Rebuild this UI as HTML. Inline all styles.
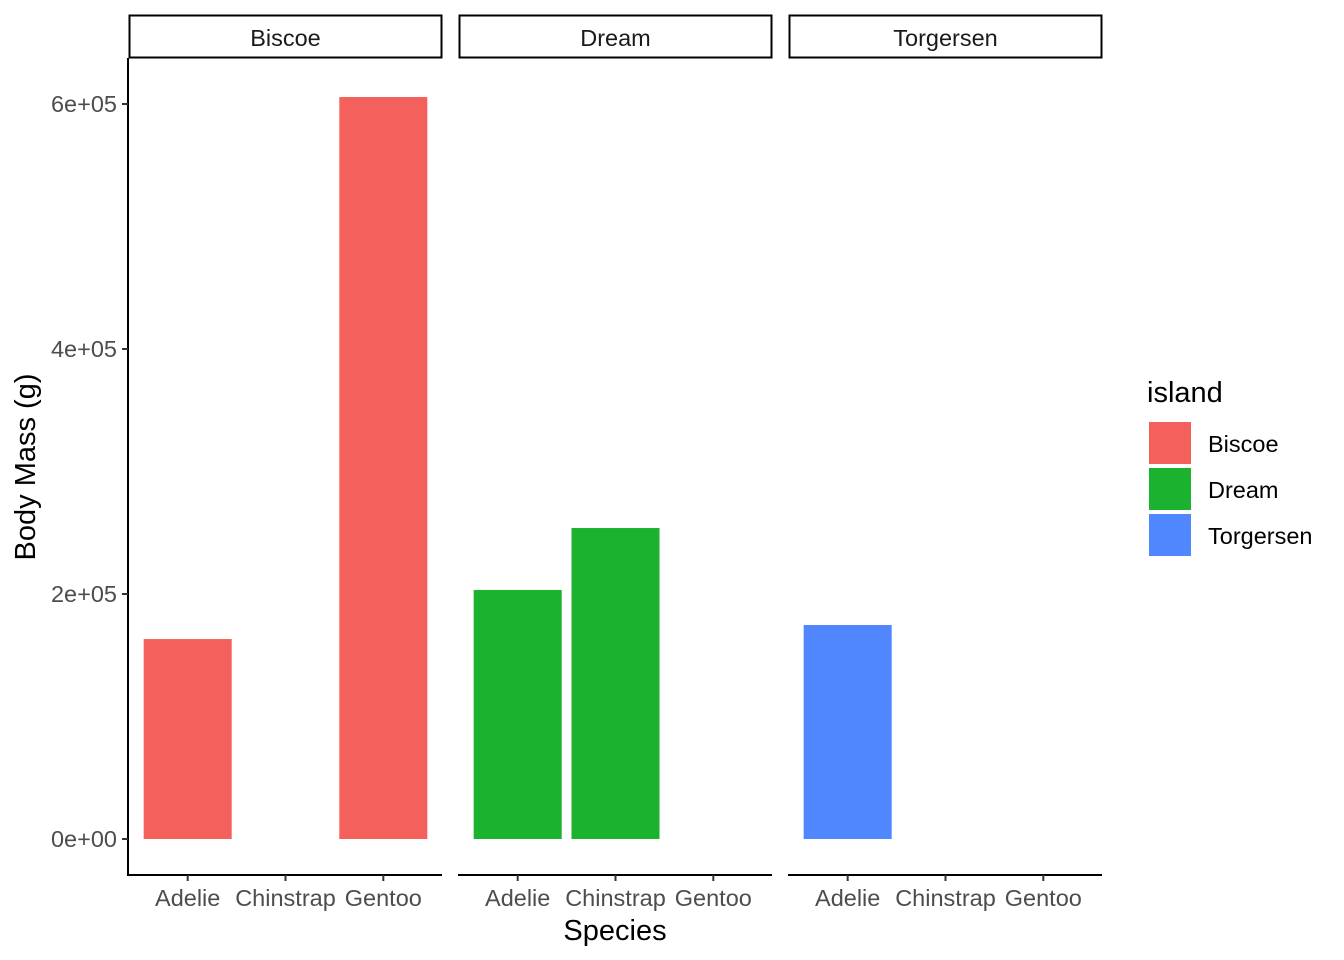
<!DOCTYPE html>
<html><head><meta charset="utf-8"><style>
body{margin:0;background:#fff;}
svg{display:block;font-family:"Liberation Sans",Arial,sans-serif;}
</style></head><body>
<svg id="chart" width="1344" height="960" xmlns="http://www.w3.org/2000/svg">
<g id="panels"></g>
<text x="615" y="940" font-size="29" text-anchor="middle" fill="#000">Species</text>
<text transform="translate(35,467) rotate(-90)" font-size="29" text-anchor="middle" fill="#000">Body Mass (g)</text>
<g>
<text x="1147" y="402" font-size="29" fill="#000">island</text>
</g>
<g id="legend-keys"></g>
</svg>
<script>
const facets = ["Biscoe","Dream","Torgersen"];
const species = ["Adelie","Chinstrap","Gentoo"];
const valuesBiscoe = [163225, 0, 605700];
const valuesDream = [203300, 253850, 0];
const valuesTorgersen = [174700, 0, 0];
const yTicks = [0, 200000, 400000, 600000];
const yTickLabels = ["0e+00","2e+05","4e+05","6e+05"];
const colors = ["#F4615C","#1AB22F","#5087FF"];
const allValues = [valuesBiscoe, valuesDream, valuesTorgersen];

const NS = "http://www.w3.org/2000/svg";
function mk(tag, attrs, parent){const e=document.createElementNS(NS,tag);for(const k in attrs)e.setAttribute(k,attrs[k]);parent.appendChild(e);return e;}
const panelX0 = [129, 459, 789], panelW = 313, panelTop = 58, panelBottom = 875;
const FS = 23.5;
function yScale(v){ return 839 - v/200000*245; }
function xScale(p, i){ return panelX0[p] + (i + 1 - 0.4) * (panelW/3.2); }
const g = document.getElementById('panels');

facets.forEach((f, p) => {
  const strip = mk('rect',{x:panelX0[p]+0.5,y:15.5,width:panelW-1,height:42,fill:'#fff',stroke:'#000','stroke-width':2},g);
  
  
  const st = mk('text',{x:panelX0[p]+panelW/2,y:46,'font-size':FS,'text-anchor':'middle',fill:'#1a1a1a'},g);
  st.textContent = f;
  
  
  allValues[p].forEach((v, i) => {
    if (v <= 0) return;
    const cx = xScale(p, i), w = panelW/3.2*0.9;
    const r = mk('rect',{x:cx-w/2,y:yScale(v),width:w,height:yScale(0)-yScale(v),fill:colors[p]},g);
    
    
  });
  const ax = mk('line',{x1:panelX0[p]-1,x2:panelX0[p]+panelW,y1:panelBottom,y2:panelBottom,stroke:'#000','stroke-width':2},g);
  
  
  species.forEach((s, i) => {
    const cx = xScale(p, i);
    mk('line',{x1:cx,x2:cx,y1:panelBottom,y2:panelBottom+6,stroke:'#333','stroke-width':2},g);
    const t = mk('text',{x:cx,y:906,'font-size':FS,'text-anchor':'middle',fill:'#4d4d4d'},g);
    t.textContent = s;
    
    
  });
});
const yax = mk('line',{x1:128,x2:128,y1:panelTop,y2:panelBottom+1,stroke:'#000','stroke-width':2},g);


yTicks.forEach((v, i) => {
  const y = yScale(v);
  mk('line',{x1:122,x2:128,y1:y,y2:y,stroke:'#333','stroke-width':2},g);
  const t = mk('text',{x:117,y:y+8,'font-size':FS,'text-anchor':'end',fill:'#4d4d4d'},g);
  t.textContent = yTickLabels[i];
  
  
});
const lg = document.getElementById('legend-keys');
facets.forEach((f, i) => {
  const y = 422 + i*46;
  const r = mk('rect',{x:1149,y:y,width:42,height:42,fill:colors[i]},lg);
  
  
  const t = mk('text',{x:1208,y:y+30,'font-size':FS,fill:'#000'},lg);
  t.textContent = f;
  
  
});
</script>
</body></html>
